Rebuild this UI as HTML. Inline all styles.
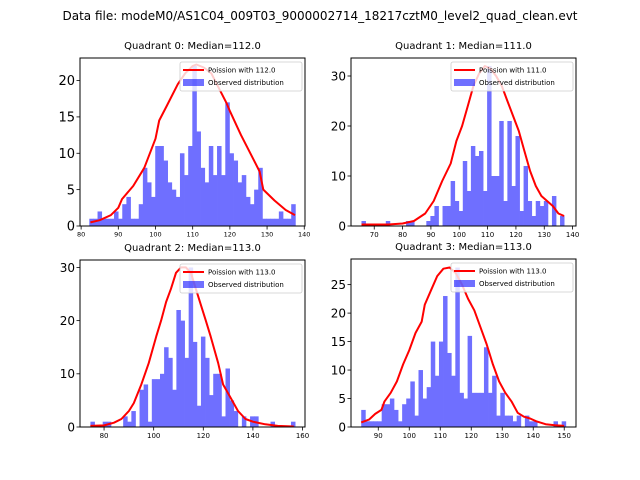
<!DOCTYPE html>
<html><head><meta charset="utf-8"><style>
html,body{margin:0;padding:0;background:#fff;}
svg{display:block;font-family:"DejaVu Sans","Liberation Sans",sans-serif;}
</style></head><body>
<svg id="fig" width="640" height="480" viewBox="0 0 640 480">
<rect width="640" height="480" fill="#fff"/>
<text x="320" y="20" font-size="12" text-anchor="middle">Data file: modeM0/AS1C04_009T03_9000002714_18217cztM0_level2_quad_clean.evt</text>
</svg>
<script>
// Quadrant 0
const q0Counts = [1,1,2,1,1,1,2,1,3,4,1,1,3,8,6,4,11,11,9,6,5,4,10,7,11,22,13,8,6,11,7,11,7,17,10,9,6,7,4,3,5,8,1,1,1,1,2,1,1,3];
const q0CurveX = [82.5,85,88,90,91,94,97,100,101,103,106,108,110,111,113,115,117,119,120,123,126,128,129,132,135,137.5];
const q0CurveY = [0.5,0.8,1.5,2.5,3.7,5.5,8,12,14.5,16.5,19.5,21,22,22.2,21.8,21,19,17,15.8,12.5,9.5,7.5,5,3.5,2.2,1.5];
const q0XTicks = [80,90,100,110,120,130,140];
const q0YTicks = [0,5,10,15,20];
// Quadrant 1
const q1Counts = [1,0,0,0,0,0,1,0,0,0,0,1,1,0,0,0,1,2,4,0,4,4,9,5,3,13,7,16,14,15,7,32,10,10,21,5,21,8,18,3,12,5,2,5,4,5,0,6,0,2];
const q1CurveX = [65.5,75,80,84,88,91,94,97,99,101,103,105,107,109,111,113,115,117,119,121,123,125,127,129,131,133,135,137];
const q1CurveY = [0.3,0.3,0.5,1,2.5,5,9,12.5,17,20,24,28,30.5,32,31.5,30,28,25,22,19,15,11,8,6,5,4,2.5,2];
const q1XTicks = [70,80,90,100,110,120,130,140];
const q1YTicks = [0,10,20,30];
// Quadrant 2
const q2Counts = [1,0,0,1,1,0,0,0,2,1,3,0,7,8,1,9,9,10,15,13,7,22,20,13,30,16,4,17,13,6,10,10,2,11,5,3,0,2,0,2,2,0,0,0,1,0,0,0,0,1];
const q2CurveX = [74.5,80,84,87,90,92,95,98,101,103,105,107,109,111,113,115,117,119,121,123,126,128,131,134,137,140,145,150,156.5];
const q2CurveY = [0.2,0.3,0.8,1.5,3,4.5,8,12,17,20,23.5,26,29,30,30,29,26,23,20,17,12,8,5.5,3,1.5,1,0.5,0.2,0.1];
const q2XTicks = [80,100,120,140,160];
const q2YTicks = [0,10,20,30];
// Quadrant 3
const q3Counts = [3,1,1,1,1,4,4,5,3,1,4,5,8,2,10,5,7,15,9,15,23,13,9,28,6,5,16,6,6,6,14,6,9,2,6,2,2,1,2,0,2,1,1,0,0,0,0,1,0,1];
const q3CurveX = [84.5,87,89,91,92,94,96,98,100,102,104,105,107,109,111,113,115,117,119,121,123,125,127,129,131,133,135,137,139,141,144,147,150];
const q3CurveY = [0.8,1.3,2.3,3,4.5,6,8,11,13.5,16.5,18.5,21.5,24,26.5,27.8,28,27,25,22.5,20.5,17.5,14.5,11,8,6,4.5,2.5,1.8,1.5,1,0.5,0.3,0.2];
const q3XTicks = [90,100,110,120,130,140,150];
const q3YTicks = [0,5,10,15,20,25];

const NS = "http://www.w3.org/2000/svg";
const fig = document.getElementById('fig');
function mk(tag, attrs, parent){const e=document.createElementNS(NS,tag);for(const k in attrs)e.setAttribute(k,attrs[k]);(parent||fig).appendChild(e);return e;}

function panel(p){
  const g = mk('g',{});
  
  
  const sx = v => p.x0 + (v - p.xmin) / (p.xmax - p.xmin) * (p.x1 - p.x0);
  const sy = v => p.y1 - (v - 0) / (p.ymax - 0) * (p.y1 - p.y0);
  const t = mk('text',{x:(p.x0+p.x1)/2,y:p.y0-9,'font-size':10,'text-anchor':'middle'},g);
  t.textContent = p.title;
  
  
  const bars = mk('g',{opacity:0.56},g);
  
  
  p.counts.forEach((c,i)=>{
    if(c<=0) return;
    const a = p.binStart + i*p.binW, b = a + p.binW;
    const r = mk('rect',{x:sx(a),y:sy(c),width:sx(b)-sx(a)+0.4,height:sy(0)-sy(c),fill:'#0000ff'},bars);
    
    
  });
  const pts = p.cx.map((x,i)=>sx(x).toFixed(1)+','+sy(p.cy[i]).toFixed(1)).join(' ');
  const pl = mk('polyline',{points:pts,fill:'none',stroke:'#f00','stroke-width':2,'stroke-linejoin':'round'},g);
  
  
  const fr = mk('rect',{x:p.x0,y:p.y0,width:p.x1-p.x0,height:p.y1-p.y0,fill:'none',stroke:'#000','stroke-width':1},g);
  
  
  p.xt.forEach(v=>{
    const x = sx(v);
    mk('line',{x1:x,x2:x,y1:p.y1,y2:p.y1+3.5,stroke:'#000','stroke-width':0.8},g);
    const tx = mk('text',{x:x,y:p.y1+4+p.xfs,'font-size':p.xfs,'text-anchor':'middle'},g);
    tx.textContent = v;
    
    
  });
  p.yt.forEach(v=>{
    const y = sy(v);
    mk('line',{x1:p.x0-3.5,x2:p.x0,y1:y,y2:y,stroke:'#000','stroke-width':0.8},g);
    const ty = mk('text',{x:p.x0-5,y:y+p.yfs*0.36,'font-size':p.yfs,'text-anchor':'end'},g);
    ty.textContent = v;
    
    
  });
  const lx = p.x1-125, ly = p.y0+4;
  const lg = mk('g',{},g);
  
  
  mk('rect',{x:lx,y:ly,width:122,height:29,fill:'rgba(255,255,255,0.8)',stroke:'#ccc','stroke-width':0.8,rx:2},lg);
  mk('line',{x1:lx+3,x2:lx+24,y1:ly+8,y2:ly+8,stroke:'#f00','stroke-width':2},lg);
  mk('rect',{x:lx+3,y:ly+17,width:21,height:7,fill:'rgba(0,0,255,0.56)'},lg);
  const l1 = mk('text',{x:lx+28,y:ly+10.5,'font-size':7},lg);
  l1.textContent = p.leg;
  
  
  const l2 = mk('text',{x:lx+28,y:ly+23,'font-size':7},lg);
  l2.textContent = 'Observed distribution';
  
  
}

panel({name:'quadrant-0',title:'Quadrant 0: Median=112.0',leg:'Poission with 112.0',x0:80,x1:305,y0:58,y1:226,xmin:79.7,xmax:140.2,ymax:23.1,binStart:82.2,binW:1.108,counts:q0Counts,cx:q0CurveX,cy:q0CurveY,xt:q0XTicks,yt:q0YTicks,xfs:6.5,yfs:13});
panel({name:'quadrant-1',title:'Quadrant 1: Median=111.0',leg:'Poission with 111.0',x0:351,x1:576,y0:58,y1:226,xmin:61.8,xmax:141.2,ymax:33.6,binStart:65.5,binW:1.43,counts:q1Counts,cx:q1CurveX,cy:q1CurveY,xt:q1XTicks,yt:q1YTicks,xfs:7,yfs:12});
panel({name:'quadrant-2',title:'Quadrant 2: Median=113.0',leg:'Poission with 113.0',x0:80,x1:305,y0:260,y1:427,xmin:70.3,xmax:161.0,ymax:31.4,binStart:74.5,binW:1.65,counts:q2Counts,cx:q2CurveX,cy:q2CurveY,xt:q2XTicks,yt:q2YTicks,xfs:7,yfs:12});
panel({name:'quadrant-3',title:'Quadrant 3: Median=113.0',leg:'Poission with 113.0',x0:351,x1:576,y0:259,y1:427,xmin:81.2,xmax:153.8,ymax:29.5,binStart:84.5,binW:1.32,counts:q3Counts,cx:q3CurveX,cy:q3CurveY,xt:q3XTicks,yt:q3YTicks,xfs:7,yfs:12});
</script>
</body></html>
